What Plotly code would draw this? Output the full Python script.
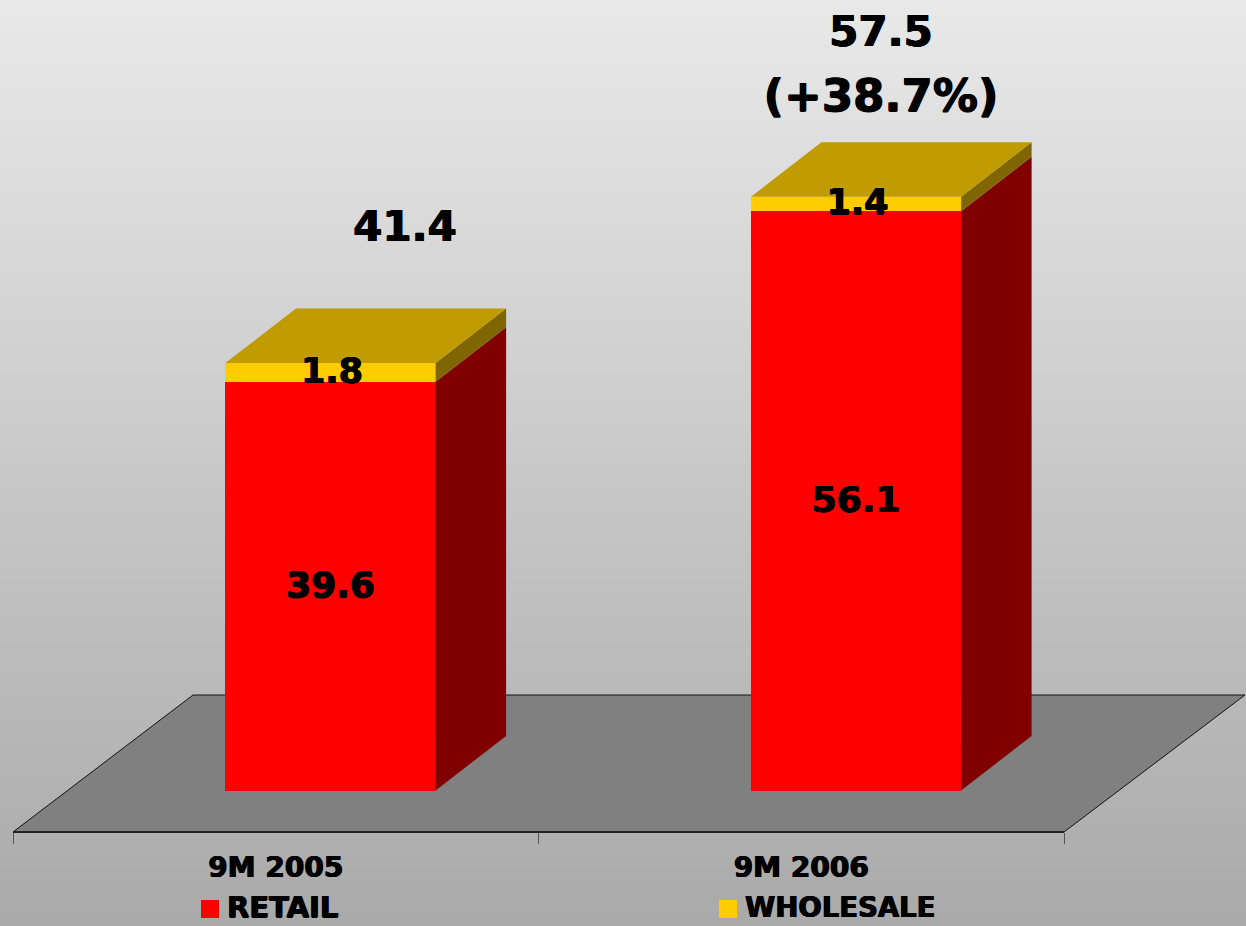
import plotly.graph_objects as go

# Chart data
categories = ["9M 2005", "9M 2006"]
retail = [39.6, 56.1]
wholesale = [1.8, 1.4]
totals = [41.4, 57.5]
total_notes = ["", "(+38.7%)"]
series_names = ["RETAIL", "WHOLESALE"]

# Canvas and value scale
WIDTH, HEIGHT = 1246, 926
BASE_PX, UNIT_PX = 790.5, 10.325      # y pixel of value 0, pixels per unit
X0_PX, STEP_PX = 330.5, 525.5         # x pixel of first bar centre, pixels per category


def xval(px):
    return (px - X0_PX) / STEP_PX


def yval(px):
    return (BASE_PX - px) / UNIT_PX


X_RANGE = [xval(0), xval(WIDTH)]
Y_RANGE = [yval(HEIGHT), yval(0)]

BAR_W = 0.4
DEPTH_X = 70.5 / STEP_PX
DEPTH_Y = 54.5 / UNIT_PX

RED, RED_SIDE = "#ff0000", "#800000"
GOLD, GOLD_TOP, GOLD_SIDE = "#ffcc00", "#c09c00", "#806600"
FONT = "DejaVu Sans"
HEAVY = "0.6px 0 0 #000000, -0.6px 0 0 #000000, 0 0.5px 0 #000000"

pos = list(range(len(categories)))
tops = [r + w for r, w in zip(retail, wholesale)]


def poly(xs, ys, color):
    return go.Scatter(x=xs, y=ys, mode="lines", fill="toself", fillcolor=color,
                      line=dict(width=0, color=color), hoverinfo="skip", showlegend=False)


def text_layer(xs, ys, labels, size, position="middle center", shadow=HEAVY):
    return go.Scatter(x=xs, y=ys, mode="text", text=labels, textposition=position,
                      textfont=dict(family=FONT, size=size, color="#000000", weight="bold",
                                    shadow=shadow),
                      hoverinfo="skip", showlegend=False)


fig = go.Figure()

# Front faces of the stacked columns
fig.add_trace(go.Bar(x=pos, y=retail, width=BAR_W, name=series_names[0],
                     marker=dict(color=RED, line=dict(width=0)), showlegend=False))
fig.add_trace(go.Bar(x=pos, y=wholesale, width=BAR_W, name=series_names[1],
                     marker=dict(color=GOLD, line=dict(width=0)), showlegend=False))

# Side and top faces for the extruded look
for p, r, t in zip(pos, retail, tops):
    xr = p + BAR_W / 2
    xl = p - BAR_W / 2
    fig.add_trace(poly([xr, xr + DEPTH_X, xr + DEPTH_X, xr, xr],
                       [0, DEPTH_Y, r + DEPTH_Y, r, 0], RED_SIDE))
    fig.add_trace(poly([xr, xr + DEPTH_X, xr + DEPTH_X, xr, xr],
                       [r, r + DEPTH_Y, t + DEPTH_Y, t, r], GOLD_SIDE))
    fig.add_trace(poly([xl, xr, xr + DEPTH_X, xl + DEPTH_X, xl],
                       [t, t, t + DEPTH_Y, t + DEPTH_Y, t], GOLD_TOP))

# Value labels inside the columns (drawn slightly below the geometric centre)
fig.add_trace(text_layer(pos, [v / 2 - 2 / UNIT_PX for v in retail],
                         [f"{v:.1f}" for v in retail], 36))
fig.add_trace(text_layer([p + 1.5 / STEP_PX for p in pos],
                         [r + w / 2 - 1.5 / UNIT_PX for r, w in zip(retail, wholesale)],
                         [f"{v:.1f}" for v in wholesale], 35))

# Totals above the columns
fig.add_trace(text_layer([xval(405), xval(881)], [yval(230), yval(35)],
                         [f"{v:.1f}" for v in totals], 42))
fig.add_trace(text_layer([xval(881)], [yval(100)], total_notes[1:], 45))

# Legend row
legend_x = [xval(210), xval(728)]
legend_y = yval(909)
fig.add_trace(go.Scatter(x=legend_x, y=[legend_y] * 2, mode="markers",
                         marker=dict(symbol="square", size=18, color=[RED, GOLD], line=dict(width=0)),
                         hoverinfo="skip", showlegend=False))
fig.add_trace(text_layer([xval(227), xval(745)], [yval(910)] * 2, series_names, [29, 27.5], "middle right"))

# Carrier trace for the category axis
fig.add_trace(go.Scatter(x=[0, 1], y=[0, 0], xaxis="x2", yaxis="y", mode="markers",
                         marker=dict(opacity=0), hoverinfo="skip", showlegend=False))

# Backdrop: stepped vertical gradient, each step painted down to the bottom edge
shapes = []
N_BANDS = 62
for i in range(N_BANDS):
    level = round(232 - (232 - 170) * i / (N_BANDS - 1))
    shapes.append(dict(type="rect", xref="paper", yref="paper", layer="below",
                       x0=0, x1=1, y0=0, y1=1 - i / N_BANDS,
                       fillcolor=f"rgb({level},{level},{level})", line=dict(width=0)))

# Floor plane
fx0, fx1 = xval(13), xval(1064)
fy0, fy1 = yval(832), yval(695)
skew_l, skew_r = 180 / STEP_PX, 181 / STEP_PX
shapes.append(dict(type="path", layer="below", xref="x", yref="y",
                   path=f"M {fx0} {fy0} L {fx0 + skew_l} {fy1} L {fx1 + skew_r} {fy1} L {fx1} {fy0} Z",
                   fillcolor="#808080", line=dict(color="#111111", width=1)))

fig.update_layout(
    width=WIDTH, height=HEIGHT,
    margin=dict(l=0, r=0, t=0, b=0),
    barmode="stack",
    paper_bgcolor="rgba(0,0,0,0)",
    plot_bgcolor="rgba(0,0,0,0)",
    showlegend=False,
    shapes=shapes,
    xaxis=dict(range=X_RANGE, visible=False, fixedrange=True, domain=[0, 1]),
    yaxis=dict(range=Y_RANGE, visible=False, fixedrange=True, domain=[0, 1]),
    xaxis2=dict(
        domain=[13 / WIDTH, 1064 / WIDTH], range=[-0.5, 1.5],
        anchor="free", position=(HEIGHT - 832) / HEIGHT,
        showline=True, linecolor="#222222", linewidth=2, showgrid=False, zeroline=False,
        tickmode="array", tickvals=pos, ticktext=categories, ticks="",
        tickfont=dict(family=FONT, size=28, color="#000000", weight="bold",
                      shadow=HEAVY),
        ticklabelstandoff=10,
        minor=dict(tickmode="array", tickvals=[-0.5, 0.5, 1.5], ticks="outside",
                   ticklen=11, tickwidth=1, tickcolor="#555555", showgrid=False),
        fixedrange=True,
    ),
)

fig.write_html("out.html", config=dict(displayModeBar=False))
